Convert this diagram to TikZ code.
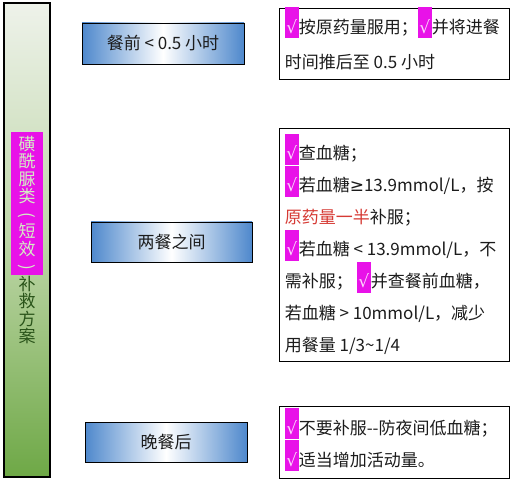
\documentclass[tikz,border=0pt]{standalone}
\usepackage{fontspec}
\setmainfont{Noto Sans CJK SC}
\newfontfamily\symfont{DejaVu Sans}
\usepackage{tikz}
\usetikzlibrary{backgrounds}

\definecolor{boxblue}{RGB}{78,136,204}
\definecolor{barlight}{RGB}{238,242,234}
\definecolor{barmid}{RGB}{190,214,168}
\definecolor{bargreen}{RGB}{110,168,70}
\definecolor{bartext}{RGB}{42,84,26}
\definecolor{hltext}{RGB}{212,238,196}
\definecolor{ckpink}{RGB}{232,18,232}
\definecolor{cktext}{RGB}{252,214,252}
\definecolor{redtext}{RGB}{214,58,52}
\definecolor{bodytext}{RGB}{28,28,28}

\newcommand{\ck}{{\setlength{\fboxsep}{0pt}\colorbox{ckpink}{\rule[-5pt]{0pt}{31pt}\makebox[14pt]{\textcolor{cktext}{\symfont √}}}}}
\newcommand{\vparen}[1]{\rotatebox[origin=c]{-90}{#1}}

\begin{document}
\begin{tikzpicture}[x=1pt,y=-1pt]
		\useasboundingbox[fill=white] (0,0) rectangle (512,481);

		% left bar
		\node[draw=black,line width=1.3pt,minimum width=46pt,minimum height=474pt,
		      top color=barlight,bottom color=bargreen,middle color=barmid] (bar) at (27,240) {};
		\node[fill=ckpink,inner sep=0pt,minimum width=32pt,minimum height=143pt] (hl) at (27,203.5) {};
		\node[align=center,inner sep=0pt,text=bartext,font=\fontsize{17}{17.5}\selectfont] (bartxt) at (27,240)
			{\textcolor{hltext}{磺}\\\textcolor{hltext}{酰}\\\textcolor{hltext}{脲}\\\textcolor{hltext}{类}\\
			 \textcolor{hltext}{\vparen{(}}\\\textcolor{hltext}{短}\\\textcolor{hltext}{效}\\\textcolor{hltext}{\vparen{)}}\\
			 补\\救\\方\\案};

		% time boxes
		\begin{scope}[every node/.style={draw=black,line width=0.8pt,left color=boxblue,right color=boxblue,
		              middle color=white,text=bodytext,font=\fontsize{17}{20}\selectfont}]
			\node[minimum width=162pt,minimum height=41pt] (b1) at (163,43.5) {餐前 < 0.5 小时};
			\node[minimum width=161pt,minimum height=40pt] (b2) at (171.5,242) {两餐之间};
			\node[minimum width=162pt,minimum height=40pt] (b3) at (166,442) {晚餐后};
		\end{scope}

		% advice boxes
		\begin{scope}[every node/.style={draw=black,line width=0.8pt,fill=white,minimum width=230pt}]
			\node[minimum height=71pt] (r1) at (394,43.5) {};
			\node[minimum height=233pt] (r2) at (394,244.5) {};
			\node[minimum height=72pt] (r3) at (394,442) {};
		\end{scope}

		\begin{scope}[every node/.style={anchor=west,align=left,inner sep=0pt,text=bodytext}]
			\node[font=\fontsize{17}{35}\selectfont] (r1t) at ([xshift=6pt,yshift=5pt]r1.west)
				{\ck 按原药量服用；\ck 并将进餐\\时间推后至 0.5 小时};
			\node[font=\fontsize{17}{32}\selectfont] (r2t) at ([xshift=6pt]r2.west)
				{\ck 查血糖；\\
				 \ck 若血糖{\symfont ≥}13.9mmol/L，按\\
				 \textcolor{redtext}{原药量一半}补服；\\
				 \ck 若血糖 < 13.9mmol/L，不\\
				 需补服；\hspace{4pt}\ck 并查餐前血糖，\\
				 若血糖 > 10mmol/L，减少\\
				 用餐量 1/3\textasciitilde1/4};
			\node[font=\fontsize{17}{32}\selectfont] (r3t) at ([xshift=6pt,yshift=2.5pt]r3.west)
				{\ck 不要补服-{}-防夜间低血糖；\\\ck 适当增加活动量。};
		\end{scope}
\end{tikzpicture}
\end{document}
